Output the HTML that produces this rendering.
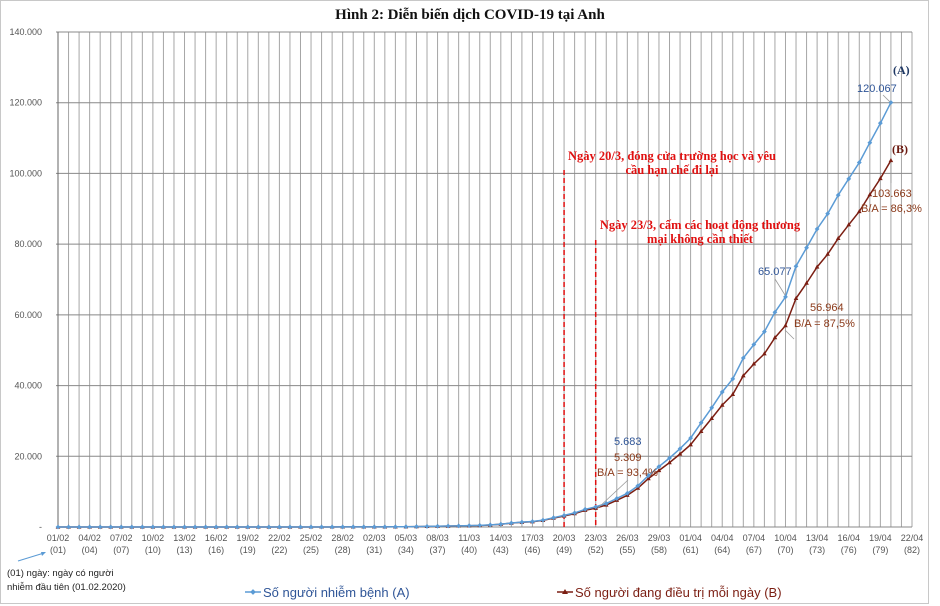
<!DOCTYPE html>
<html><head><meta charset="utf-8"><style>
html,body{margin:0;padding:0;background:#fff;}
svg{display:block;font-family:"Liberation Sans",sans-serif;}
</style></head><body>
<svg id="chart" width="940" height="606" viewBox="0 0 940 606" xmlns="http://www.w3.org/2000/svg">
<rect x="0.5" y="0.5" width="928" height="603" fill="#fff" stroke="#c8c8c8"/>
<text x="470" y="19" text-anchor="middle" font-family="Liberation Serif,serif" font-weight="bold" font-size="15" fill="#111">Hình 2: Diễn biến dịch COVID-19 tại Anh</text>
<g id="grid"></g>
<g id="axes"></g>
<g id="annot"></g>
<g id="series"></g>
<g id="labels"></g>
<g>
<line x1="18" y1="561" x2="44" y2="553" stroke="#5b9bd5" stroke-width="1"/>
<polygon points="46,552 41,552 42,556" fill="#5b9bd5"/>
<text x="7" y="576" font-size="9.5" fill="#222">(01) ngày: ngày có người</text>
<text x="7" y="590" font-size="9.5" fill="#222">nhiễm đầu tiên (01.02.2020)</text>
</g>
<g>
<g>
<line x1="245" y1="592" x2="261" y2="592" stroke="#5b9bd5" stroke-width="1.5"/>
<rect x="251" y="590" width="4" height="4" fill="#5b9bd5" transform="rotate(45 253 592)"/>
<text x="263" y="597" font-size="13" fill="#2f5597">Số người nhiễm bệnh (A)</text>
</g>
<g>
<line x1="557" y1="592" x2="573" y2="592" stroke="#7b1e12" stroke-width="1.5"/>
<polygon points="565,589 568,594 562,594" fill="#7b1e12"/>
<text x="575" y="597" font-size="13" fill="#7b1e12">Số người đang điều trị mỗi ngày (B)</text>
</g>
</g>
</svg>
<script>
const days = Array.from({length:82},(_,i)=>i+1);
const dateLabels = ["01/02","04/02","07/02","10/02","13/02","16/02","19/02","22/02","25/02","28/02","02/03","05/03","08/03","11/03","14/03","17/03","20/03","23/03","26/03","29/03","01/04","04/04","07/04","10/04","13/04","16/04","19/04","22/04"];
const dayLabels = ["(01)","(04)","(07)","(10)","(13)","(16)","(19)","(22)","(25)","(28)","(31)","(34)","(37)","(40)","(43)","(46)","(49)","(52)","(55)","(58)","(61)","(64)","(67)","(70)","(73)","(76)","(79)","(82)"];
const yTicks = [0,20000,40000,60000,80000,100000,120000,140000];
const yTickLabels = ["-","20.000","40.000","60.000","80.000","100.000","120.000","140.000"];
const seriesA = [2,2,2,2,2,2,2,2,2,3,8,8,9,9,9,9,9,9,9,9,9,9,9,9,13,13,13,15,20,23,
36,40,51,87,116,164,209,278,321,383,460,590,798,1140,1372,1543,1950,2626,3269,3983,5018,5683,6650,8077,9529,11658,14543,17089,19522,22141,25150,29474,33718,38168,41903,47806,51608,55242,60733,65077,73758,78991,84279,88621,93873,98476,103093,108692,114217,120067];
const seriesB = [2,2,2,2,2,2,2,2,2,3,8,8,9,9,9,9,9,9,9,9,9,9,9,9,13,13,13,15,20,23,
28,32,43,79,108,155,189,257,299,359,434,564,770,1101,1319,1470,1861,2503,3107,3770,4720,5309,6222,7562,8971,10987,13691,15977,18201,20640,23268,27029,30704,34470,37497,42779,46142,48990,53543,56964,64665,68981,73532,77157,81631,85473,89229,93981,98558,103663];

const NS="http://www.w3.org/2000/svg";
const X0=58,X1=912,Y0=527,Y1=32;
function xs(d){return X0+(d-1)*(X1-X0)/81;}
function ys(v){return Y0-v/140000*(Y0-Y1);}
function mk(tag,attrs,parent,text){const e=document.createElementNS(NS,tag);for(const k in attrs)e.setAttribute(k,attrs[k]);if(text!==undefined)e.textContent=text;parent.appendChild(e);return e;}
const grid=document.getElementById('grid'),axes=document.getElementById('axes');
days.forEach(d=>{const l=mk('line',{x1:xs(d),x2:xs(d),y1:Y1,y2:Y0,stroke:'#a6a6a6','stroke-width':1},grid);

});
yTicks.forEach((v,i)=>{const l=mk('line',{x1:X0-2,x2:X1,y1:ys(v),y2:ys(v),stroke:'#888','stroke-width':1},grid);


const t=mk('text',{x:42,y:ys(v)+3,'text-anchor':'end','font-size':9,fill:'#555'},axes,yTickLabels[i]);

});
mk('line',{x1:X0,x2:X0,y1:Y1,y2:Y0,stroke:'#666'},axes);
dateLabels.forEach((s,i)=>{const d=1+i*3;const x=xs(d);
const t=mk('text',{x:x,y:541,'text-anchor':'middle','font-size':9,fill:'#555'},axes,s);


const t2=mk('text',{x:x,y:553,'text-anchor':'middle','font-size':9,fill:'#555'},axes,dayLabels[i]);

});

const an=document.getElementById('annot');
[[49,170],[52,240]].forEach(([d,yt])=>{const l=mk('line',{x1:xs(d),x2:xs(d),y1:yt,y2:Y0,stroke:'#e01010','stroke-width':1.5,'stroke-dasharray':'5,3'},an);

});
const red={'font-family':'Liberation Serif,serif','font-weight':'bold','font-size':12.5,fill:'#e01010','text-anchor':'middle'};
[["Ngày 20/3, đóng cửa trường học và yêu",672,160],["cầu hạn chế đi lại",672,174],["Ngày 23/3, cấm các hoạt động thương",700,229],["mại không cần thiết",700,243]].forEach(([s,x,y])=>{const t=mk('text',Object.assign({x:x,y:y},red),an,s);

});

const sg=document.getElementById('series');
function drawSeries(vals,color,name,tri){
const pts=vals.map((v,i)=>xs(i+1).toFixed(1)+','+ys(v).toFixed(1)).join(' ');
const pl=mk('polyline',{points:pts,fill:'none',stroke:color,'stroke-width':1.5},sg);


vals.forEach((v,i)=>{const x=xs(i+1),y=ys(v);let m;
if(tri)m=mk('polygon',{points:`${x},${y-2.5} ${x+2.3},${y+1.6} ${x-2.3},${y+1.6}`,fill:color},sg);
else m=mk('rect',{x:x-1.7,y:y-1.7,width:3.4,height:3.4,fill:color,transform:`rotate(45 ${x} ${y})`},sg);

});}
drawSeries(seriesB,'#7b1e12','series-b',true);
drawSeries(seriesA,'#5b9bd5','series-a',false);

const lb=document.getElementById('labels');
function lab(s,x,y,c,extra){const t=mk('text',Object.assign({x:x,y:y,'font-size':11,fill:c},extra||{}),lb,s);

}
function lead(x1,y1,x2,y2){const l=mk('line',{x1,y1,x2,y2,stroke:'#999','stroke-width':0.8},lb);

}
const bl='#2f5597',br='#8b3a1a';
lab("(A)",893,74,'#1f3864',{'font-family':'Liberation Serif,serif','font-weight':'bold','font-size':12});
lab("(B)",892,153,'#6b1a10',{'font-family':'Liberation Serif,serif','font-weight':'bold','font-size':12});
lab("120.067",857,92,bl);lead(883,95,890,102);
lab("103.663",872,197,br);lab("B/A = 86,3%",861,212,br);lead(891,162,891,183);
lab("65.077",758,275,bl);lead(775,279,785,295);
lab("56.964",810,311,br);lab("B/A = 87,5%",794,327,br);lead(785,330,794,339);
lab("5.683",614,445,bl);lab("5.309",614,461,br);lab("B/A = 93,4%",597,476,br);lead(628,480,598,508);
</script>
</body></html>
